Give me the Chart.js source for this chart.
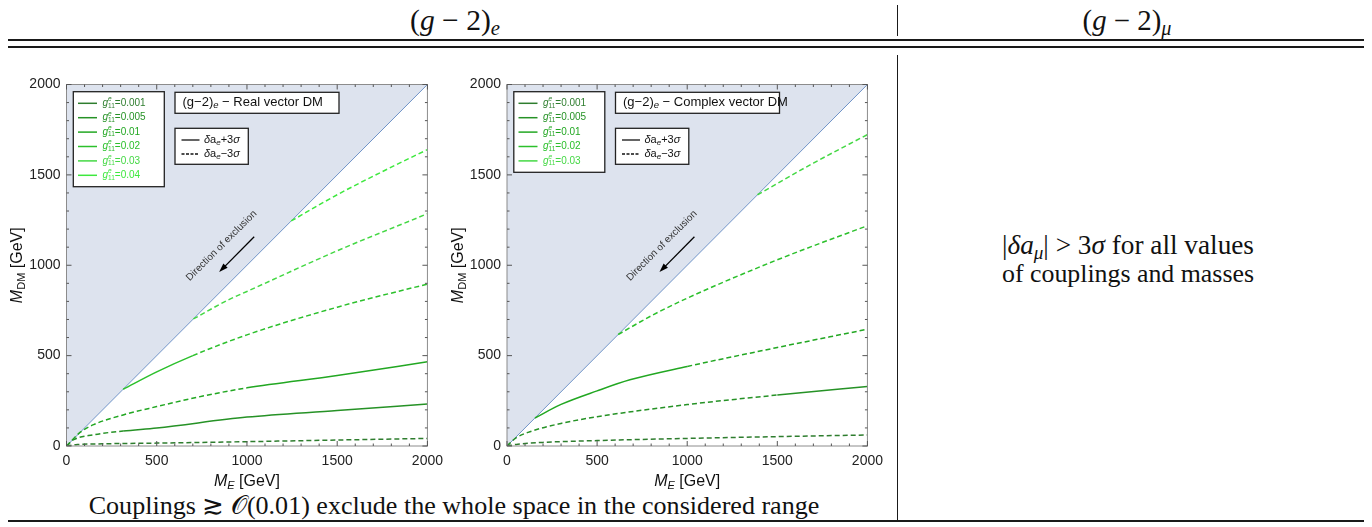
<!DOCTYPE html>
<html>
<head>
<meta charset="utf-8">
<script src="https://cdn.jsdelivr.net/npm/chart.js@4.4.0/dist/chart.umd.min.js"></script>
<style>
body { margin: 0; background: #fff; width: 1372px; height: 527px; position: relative; overflow: hidden; font-family: 'Liberation Serif', 'DejaVu Serif', serif; color: #111; }
.t { position: absolute; transform: translate(-50%, -50%); white-space: nowrap; line-height: 1; }
.t sub { font-size: 0.7em; vertical-align: -0.25em; }
.rule { position: absolute; background: #1a1a1a; }
canvas { position: absolute; }
</style>
</head>
<body>

<span class="t" data-w="90" style="left:455px;top:22px">(<i>g</i> − 2)<sub><i>e</i></sub></span>
<span class="t" data-w="89" style="left:1127px;top:22px">(<i>g</i> − 2)<sub><i>μ</i></sub></span>
<div class="rule" style="left:897px;top:5px;width:1px;height:31px"></div>
<div class="rule" style="left:8px;top:39px;width:1356px;height:1.5px"></div>
<div class="rule" style="left:8px;top:46px;width:1356px;height:1.5px"></div>
<div class="rule" style="left:897px;top:55px;width:1px;height:465px"></div>
<div class="rule" style="left:8px;top:520px;width:1356px;height:2px"></div>

<span class="t" data-w="252" style="left:1128px;top:247px">|<i>δa</i><sub><i>μ</i></sub>| &gt; 3<i>σ</i> for all values</span>
<span class="t" data-w="252" style="left:1128px;top:274px">of couplings and masses</span>
<span class="t" data-w="732" style="left:454px;top:506px">Couplings ≳ 𝒪(0.01) exclude the whole space in the considered range</span>

<canvas id="realChart" width="450" height="440" style="left:0px;top:60px"></canvas>
<canvas id="complexChart" width="450" height="440" style="left:440px;top:60px"></canvas>

<script>
// couplings g^e_11 and colours
const couplingsReal = ['0.001', '0.005', '0.01', '0.02', '0.03', '0.04'];
const couplingsComplex = ['0.001', '0.005', '0.01', '0.02', '0.03'];
const curveColors = ['#2e7d2e', '#269226', '#22a722', '#2cc02c', '#44d844', '#3ee83e'];

// diagonal M_DM = M_E
const diagX = [0, 2000];
const diagY = [0, 2000];

// real vector DM curves (M_E, M_DM) in GeV
const realX001 = [0, 60, 200, 500, 1000, 1500, 2000];
const realY001 = [0, 8, 12, 16, 24, 33, 42];
const realX005 = [0, 40, 150, 314, 500, 1000, 1500, 2000];
const realY005 = [0, 35, 62, 83, 100, 160, 196, 233];
const realX01 = [0, 75, 150, 314, 500, 750, 1000, 1500, 2000];
const realY01 = [0, 75, 118, 172, 218, 275, 322, 390, 466];
const realX02 = [314, 500, 700, 1000, 1500, 2000];
const realY02 = [314, 410, 500, 615, 768, 896];
const realX03 = [703, 900, 1000, 1500, 2000];
const realY03 = [703, 810, 855, 1080, 1285];
const realX04 = [1245, 1500, 1750, 2000];
const realY04 = [1245, 1390, 1518, 1640];
// where the +3sigma (solid) curve shows, [from, to]
const realSolid = [null, [314, 2000], [1000, 2000], [314, 700], null, null];

// complex vector DM curves
const cplxX001 = [0, 60, 200, 500, 1000, 1500, 2000];
const cplxY001 = [0, 10, 20, 30, 42, 52, 61];
const cplxX005 = [0, 50, 127, 300, 500, 1000, 1500, 2000];
const cplxY005 = [0, 45, 79, 125, 162, 229, 282, 329];
const cplxX01 = [155, 300, 500, 682, 1000, 1500, 2000];
const cplxY01 = [155, 230, 305, 366, 440, 545, 646];
const cplxX02 = [617, 800, 1000, 1500, 2000];
const cplxY02 = [617, 720, 818, 1030, 1219];
const cplxX03 = [1390, 1700, 2000];
const cplxY03 = [1390, 1565, 1723];
const cplxSolid = [null, [1500, 2000], [155, 1000], null, null];

const axisTicks = [0, 500, 1000, 1500, 2000];

const SANS = "'Liberation Sans', Arial, sans-serif";

function pts(xs, ys) {
    return xs.map((x, i) => ({ x: x, y: ys[i] }));
}

// draw a run of text pieces with their own fonts / offsets
function rich(ctx, parts, x, y, align) {
    let w = 0;
    parts.forEach(p => {
        ctx.font = p.f;
        p.w = ctx.measureText(p.t).width;
        if (!p.noAdv) w += p.w;
    });
    let cx = align === 'center' ? x - w / 2 : x;
    parts.forEach(p => {
        ctx.font = p.f;
        ctx.fillText(p.t, cx, y + (p.dy || 0));
        if (!p.noAdv) cx += p.w;
    });
}

const decor = {
    id: 'decor',
    afterDatasetsDraw(chart) {
        const { ctx, chartArea: a } = chart;
        ctx.save();
        // frame
        ctx.strokeStyle = '#8c8c8c';
        ctx.lineWidth = 1;
        ctx.strokeRect(a.left, a.top, a.right - a.left, a.bottom - a.top);
        // frame ticks, inward
        const xs = chart.scales.x, ys = chart.scales.y;
        ctx.strokeStyle = '#555';
        ctx.beginPath();
        for (let v = 0; v <= 2000; v += 100) {
            const len = v % 500 === 0 ? 5 : 2.5;
            const px = xs.getPixelForValue(v), py = ys.getPixelForValue(v);
            ctx.moveTo(px, a.bottom); ctx.lineTo(px, a.bottom - len);
            ctx.moveTo(px, a.top); ctx.lineTo(px, a.top + len);
            ctx.moveTo(a.left, py); ctx.lineTo(a.left + len, py);
            ctx.moveTo(a.right, py); ctx.lineTo(a.right - len, py);
        }
        ctx.stroke();
        ctx.restore();
    },
    afterDraw(chart, args, opts) {
        const { ctx, chartArea: a } = chart;
        const xs = chart.scales.x, ys = chart.scales.y;
        ctx.save();
        ctx.textBaseline = 'middle';

        // coupling legend
        const n = opts.labels.length;
        ctx.fillStyle = '#fff';
        ctx.strokeStyle = '#222';
        ctx.lineWidth = 1.3;
        ctx.fillRect(a.left + 6.8, a.top + 7.2, 91, 14.4 * n + 8.6);
        ctx.strokeRect(a.left + 6.8, a.top + 7.2, 91, 14.4 * n + 8.6);
        opts.labels.forEach((lab, i) => {
            const yy = a.top + 18.8 + i * 14.4;
            ctx.strokeStyle = curveColors[i];
            ctx.lineWidth = 1.5;
            ctx.beginPath();
            ctx.moveTo(a.left + 11.5, yy); ctx.lineTo(a.left + 30.5, yy);
            ctx.stroke();
            ctx.fillStyle = curveColors[i];
            rich(ctx, [
                { t: 'g', f: `italic 10px ${SANS}` },
                { t: 'e', f: `italic 6.5px ${SANS}`, dy: -4, noAdv: true },
                { t: '11', f: `6.5px ${SANS}`, dy: 2.5 },
                { t: '=' + lab, f: `10px ${SANS}` }
            ], a.left + 36, yy);
        });

        // title box
        ctx.fillStyle = '#fff';
        ctx.strokeStyle = '#222';
        ctx.lineWidth = 1.3;
        ctx.fillRect(a.left + 108.5, a.top + 7.8, 164, 21);
        ctx.strokeRect(a.left + 108.5, a.top + 7.8, 164, 21);
        ctx.fillStyle = '#111';
        rich(ctx, [
            { t: '(g−2)', f: `13px ${SANS}` },
            { t: 'e', f: `italic 9.5px ${SANS}`, dy: 3 },
            { t: ' − ' + opts.title, f: `13px ${SANS}` }
        ], a.left + 116, a.top + 18.3);

        // sigma legend
        ctx.fillStyle = '#fff';
        ctx.fillRect(a.left + 108.5, a.top + 43.8, 73.3, 36);
        ctx.strokeRect(a.left + 108.5, a.top + 43.8, 73.3, 36);
        ['+3', '−3'].forEach((s, i) => {
            const yy = a.top + 55.5 + i * 14;
            ctx.strokeStyle = '#111';
            ctx.lineWidth = 1.3;
            ctx.setLineDash(i ? [3, 1.5] : []);
            ctx.beginPath();
            ctx.moveTo(a.left + 115, yy); ctx.lineTo(a.left + 133, yy);
            ctx.stroke();
            ctx.setLineDash([]);
            ctx.fillStyle = '#111';
            rich(ctx, [
                { t: 'δ', f: `italic 11px ${SANS}` },
                { t: 'a', f: `11px ${SANS}` },
                { t: 'e', f: `italic 8px ${SANS}`, dy: 2.5 },
                { t: s, f: `11px ${SANS}` },
                { t: 'σ', f: `italic 11px ${SANS}` }
            ], a.left + 137.5, yy);
        });

        // exclusion arrow
        const x0 = xs.getPixelForValue(1040), y0 = ys.getPixelForValue(1158);
        const x1 = xs.getPixelForValue(846), y1 = ys.getPixelForValue(962);
        const ang = Math.atan2(y1 - y0, x1 - x0);
        ctx.strokeStyle = '#000';
        ctx.fillStyle = '#000';
        ctx.lineWidth = 1.3;
        ctx.beginPath();
        ctx.moveTo(x0, y0);
        ctx.lineTo(x1 - 6 * Math.cos(ang), y1 - 6 * Math.sin(ang));
        ctx.stroke();
        ctx.beginPath();
        ctx.moveTo(x1, y1);
        ctx.lineTo(x1 - 9 * Math.cos(ang) + 3 * Math.sin(ang), y1 - 9 * Math.sin(ang) - 3 * Math.cos(ang));
        ctx.lineTo(x1 - 9 * Math.cos(ang) - 3 * Math.sin(ang), y1 - 9 * Math.sin(ang) + 3 * Math.cos(ang));
        ctx.closePath();
        ctx.fill();

        ctx.save();
        ctx.translate(xs.getPixelForValue(859), ys.getPixelForValue(1108));
        ctx.rotate(-Math.PI / 4);
        ctx.fillStyle = '#333';
        ctx.font = `10px ${SANS}`;
        ctx.textAlign = 'center';
        ctx.fillText('Direction of exclusion', 0, 0);
        ctx.restore();

        // axis titles
        ctx.fillStyle = '#111';
        rich(ctx, [
            { t: 'M', f: `italic 16px ${SANS}` },
            { t: 'E', f: `italic 11px ${SANS}`, dy: 4 },
            { t: ' [GeV]', f: `16px ${SANS}` }
        ], (a.left + a.right) / 2, a.bottom + 36, 'center');
        ctx.save();
        ctx.translate(a.left - 48.5, (a.top + a.bottom) / 2);
        ctx.rotate(-Math.PI / 2);
        rich(ctx, [
            { t: 'M', f: `italic 16px ${SANS}` },
            { t: 'DM', f: `11px ${SANS}`, dy: 4 },
            { t: ' [GeV]', f: `16px ${SANS}` }
        ], 0, 0, 'center');
        ctx.restore();

        ctx.restore();
    }
};

function makeChart(id, curves, solid, labels, title, leftW, padRight) {
    const datasets = curves.map((c, i) => ({
        data: pts(c[0], c[1]),
        borderColor: curveColors[i],
        borderWidth: 1.5,
        borderDash: [5, 3],
        fill: false,
        segment: {
            borderDash: ctx => {
                const r = solid[i];
                if (r && ctx.p0.parsed.x >= r[0] && ctx.p1.parsed.x <= r[1]) return [];
                return [5, 3];
            }
        }
    }));
    datasets.push({
        data: pts(diagX, diagY),
        borderColor: '#7094c8',
        borderWidth: 1,
        backgroundColor: '#dde3ee',
        fill: 'end',
        order: 99,
        cubicInterpolationMode: 'default',
        tension: 0
    });

    const tickFont = { family: SANS, size: 14 };
    return new Chart(document.getElementById(id), {
        type: 'line',
        data: { datasets: datasets },
        plugins: [decor],
        options: {
            responsive: false,
            animation: false,
            events: [],
            layout: { padding: { top: 24.5, right: padRight, left: 0, bottom: 0 } },
            elements: { point: { radius: 0 }, line: { cubicInterpolationMode: 'monotone' } },
            plugins: {
                legend: { display: false },
                tooltip: { enabled: false },
                decor: { labels: labels, title: title }
            },
            scales: {
                x: {
                    type: 'linear', min: 0, max: 2000,
                    afterBuildTicks: s => { s.ticks = axisTicks.map(v => ({ value: v })); },
                    ticks: { font: tickFont, color: '#222', padding: 7, maxRotation: 0, callback: v => String(v) },
                    grid: { display: false, drawTicks: false },
                    border: { display: false },
                    afterFit: s => { s.height = 54; }
                },
                y: {
                    type: 'linear', min: 0, max: 2000,
                    afterBuildTicks: s => { s.ticks = axisTicks.map(v => ({ value: v })); },
                    ticks: { font: tickFont, color: '#222', padding: 6, callback: v => String(v) },
                    grid: { display: false, drawTicks: false },
                    border: { display: false },
                    afterFit: s => { s.width = leftW; }
                }
            }
        }
    });
}

makeChart('realChart', [
    [realX001, realY001], [realX005, realY005], [realX01, realY01],
    [realX02, realY02], [realX03, realY03], [realX04, realY04]
], realSolid, couplingsReal, 'Real vector DM', 66.5, 21.7);

makeChart('complexChart', [
    [cplxX001, cplxY001], [cplxX005, cplxY005], [cplxX01, cplxY01],
    [cplxX02, cplxY02], [cplxX03, cplxY03]
], cplxSolid, couplingsComplex, 'Complex vector DM', 67, 22);

// fit table texts to their widths
document.querySelectorAll('[data-w]').forEach(el => {
    el.style.fontSize = '20px';
    const w = el.getBoundingClientRect().width;
    el.style.fontSize = (20 * (+el.dataset.w) / w).toFixed(2) + 'px';
});
</script>
</body>
</html>
